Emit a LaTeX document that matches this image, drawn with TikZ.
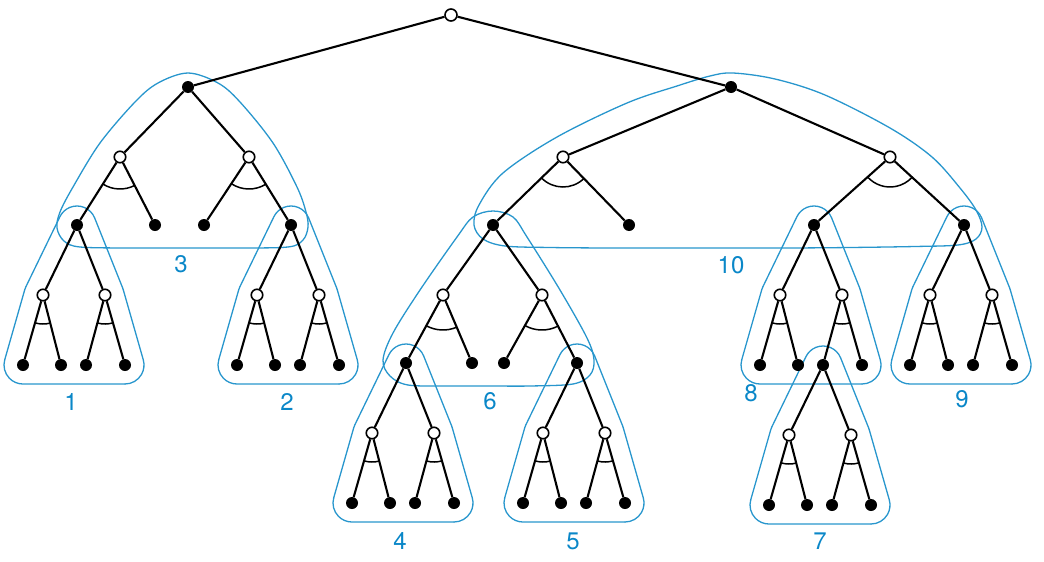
\documentclass[tikz,border=0pt]{standalone}
\usepackage{fontspec}
\setmainfont{TeX Gyre Heros}
\usetikzlibrary{calc}
\pgfdeclarelayer{background}
\pgfsetlayers{background,main}
\definecolor{bluel}{RGB}{40,150,205}
\definecolor{bluet}{RGB}{10,135,200}
\tikzset{
 onode/.style={circle, draw=black, line width=1.6pt, fill=white, minimum size=11.5pt, inner sep=0pt},
 fnode/.style={circle, fill=black, minimum size=12pt, inner sep=0pt},
 edge/.style={line width=2.1pt, black},
 andarc/.style={line width=1.5pt, black},
 blob/.style={draw=bluel, line width=1.3pt, line cap=round},
 lab/.style={text=bluet, font=\fontsize{24}{28}\selectfont, inner sep=0pt},
}
% arc at #2 between offset edges (#1,#2) and (#2,#3), then offset edge (#2,#3)
\newcommand\hullseg[4]{%
  \draw[blob] let \p0=(#2), \p1=($(#2)!#4!90:(#1)$), \p2=($(#2)!#4!-90:(#3)$),
    \n1={atan2(\y1-\y0,\x1-\x0)}, \n2={atan2(\y2-\y0,\x2-\x0)},
    \n3={\n1+mod(\n2-\n1+720,360)} in
    (\p1) arc[start angle=\n1, end angle=\n3, radius=#4] -- ($(#3)!#4!90:(#2)$);
}
\newcommand\blobfive[6]{%
  \hullseg{#6}{#2}{#3}{#1}\hullseg{#2}{#3}{#4}{#1}\hullseg{#3}{#4}{#5}{#1}%
  \hullseg{#4}{#5}{#6}{#1}\hullseg{#5}{#6}{#2}{#1}}
\newcommand\andmark[4]{%
  \draw[andarc] let \p0=(#1.center), \p1=(#2.center), \p2=(#3.center),
    \n1={atan2(\y1-\y0,\x1-\x0)}, \n2={atan2(\y2-\y0,\x2-\x0)} in
    ($(\p0)+(\n1:#4)$) arc[start angle=\n1, end angle=\n2, radius=#4];
}
\newcommand\smalltree[1]{%
  \node[fnode] (#1-l1) at ($(#1)+(-54,140)$) {};
  \node[fnode] (#1-l2) at ($(#1)+(-16,140)$) {};
  \node[fnode] (#1-l3) at ($(#1)+(9,140)$) {};
  \node[fnode] (#1-l4) at ($(#1)+(48,140)$) {};
  \node[onode] (#1-o1) at ($(#1)+(-34,70)$) {};
  \node[onode] (#1-o2) at ($(#1)+(28,70)$) {};
  \draw[edge] (#1) -- (#1-o1) (#1) -- (#1-o2)
    (#1-o1) -- (#1-l1) (#1-o1) -- (#1-l2) (#1-o2) -- (#1-l3) (#1-o2) -- (#1-l4);
  \andmark{#1-o1}{#1-l1}{#1-l2}{29pt}
  \andmark{#1-o2}{#1-l3}{#1-l4}{29pt}
}
\newcommand\smallblob[1]{\blobfive{19pt}{#1}{#1-o1}{#1-l1}{#1-l4}{#1-o2}}
\begin{document}
\begin{tikzpicture}[x=1pt,y=-1pt]
\useasboundingbox (0,0) rectangle (1044,562);
% main tree nodes
\node[onode, minimum size=12pt] (r) at (451,15) {};
\node[fnode] (a) at (188,87) {};
\node[fnode] (b) at (731,87) {};
\node[onode] (a1) at (120,157) {};
\node[onode] (a2) at (249,157) {};
\node[fnode] (a11) at (77,225) {};
\node[fnode] (a12) at (155,225) {};
\node[fnode] (a21) at (204,225) {};
\node[fnode] (a22) at (291,225) {};
\node[onode] (b1) at (563,157) {};
\node[onode] (b2) at (890,157) {};
\node[fnode] (b11) at (493,225) {};
\node[fnode] (b12) at (629,225) {};
\node[fnode] (b21) at (814,225) {};
\node[fnode] (b22) at (964,225) {};
\node[onode] (m1) at (443,295) {};
\node[onode] (m2) at (542,295) {};
\node[fnode] (m11) at (406,363) {};
\node[fnode] (m12) at (472,363) {};
\node[fnode] (m21) at (504,363) {};
\node[fnode] (m22) at (577,363) {};
\draw[edge] (r) -- (a) (r) -- (b)
  (a) -- (a1) (a) -- (a2) (a1) -- (a11) (a1) -- (a12) (a2) -- (a21) (a2) -- (a22)
  (b) -- (b1) (b) -- (b2) (b1) -- (b11) (b1) -- (b12) (b2) -- (b21) (b2) -- (b22)
  (b11) -- (m1) (b11) -- (m2) (m1) -- (m11) (m1) -- (m12) (m2) -- (m21) (m2) -- (m22);
\andmark{a1}{a11}{a12}{32pt}
\andmark{a2}{a21}{a22}{32pt}
\andmark{b1}{b11}{b12}{30pt}
\andmark{b2}{b21}{b22}{30pt}
\andmark{m1}{m11}{m12}{35pt}
\andmark{m2}{m21}{m22}{35pt}
\smalltree{a11}
\smalltree{a22}
\smalltree{m11}
\smalltree{m22}
\smalltree{b21}
\smalltree{b21-l3}
\smalltree{b22}
% blobs
\begin{pgfonlayer}{background}
\smallblob{a11}
\smallblob{a22}
\smallblob{m11}
\smallblob{m22}
\smallblob{b21}
\smallblob{b21-l3}
\smallblob{b22}
\draw[blob] plot[smooth cycle, tension=0.55] coordinates {
  (188,73) (158,83) (135,102) (100,143) (73,187) (60,212) (57,228) (64,241) (80,247)
  (130,248) (181,248) (235,248) (288,247) (303,240) (308,227) (306,212) (297,187)
  (273,143) (240,102) (218,83)};
\draw[blob] plot[smooth cycle, tension=0.55] coordinates {
  (493,211) (513,217) (527,237) (560,290) (587,338) (594,360) (590,375) (573,384)
  (530,386) (490,386) (448,386) (408,385) (390,376) (383,360) (393,333) (420,290)
  (457,237) (473,217)};
\draw[blob] plot[smooth cycle, tension=0.55] coordinates {
  (733,73) (775,79) (825,95) (890,128) (932,157) (960,188) (976,210) (982,227)
  (976,239) (958,245) (915,246.5) (850,247.5) (790,248) (731,248) (670,248)
  (610,248) (550,247.5) (505,246) (483,239) (474,225) (479,205) (503,173)
  (557,137) (627,103) (677,86) (710,76)};
\end{pgfonlayer}
% labels
\node[lab] (n1) at (71,402) {1};
\node[lab] (n2) at (287,402) {2};
\node[lab] (n3) at (181,264) {3};
\node[lab] (n4) at (400,541) {4};
\node[lab] (n5) at (573,541) {5};
\node[lab] (n6) at (490,401) {6};
\node[lab] (n7) at (820,541) {7};
\node[lab] (n8) at (751,393) {8};
\node[lab] (n9) at (962,399) {9};
\node[lab] (n10) at (731,265) {10};
\end{tikzpicture}
\end{document}
